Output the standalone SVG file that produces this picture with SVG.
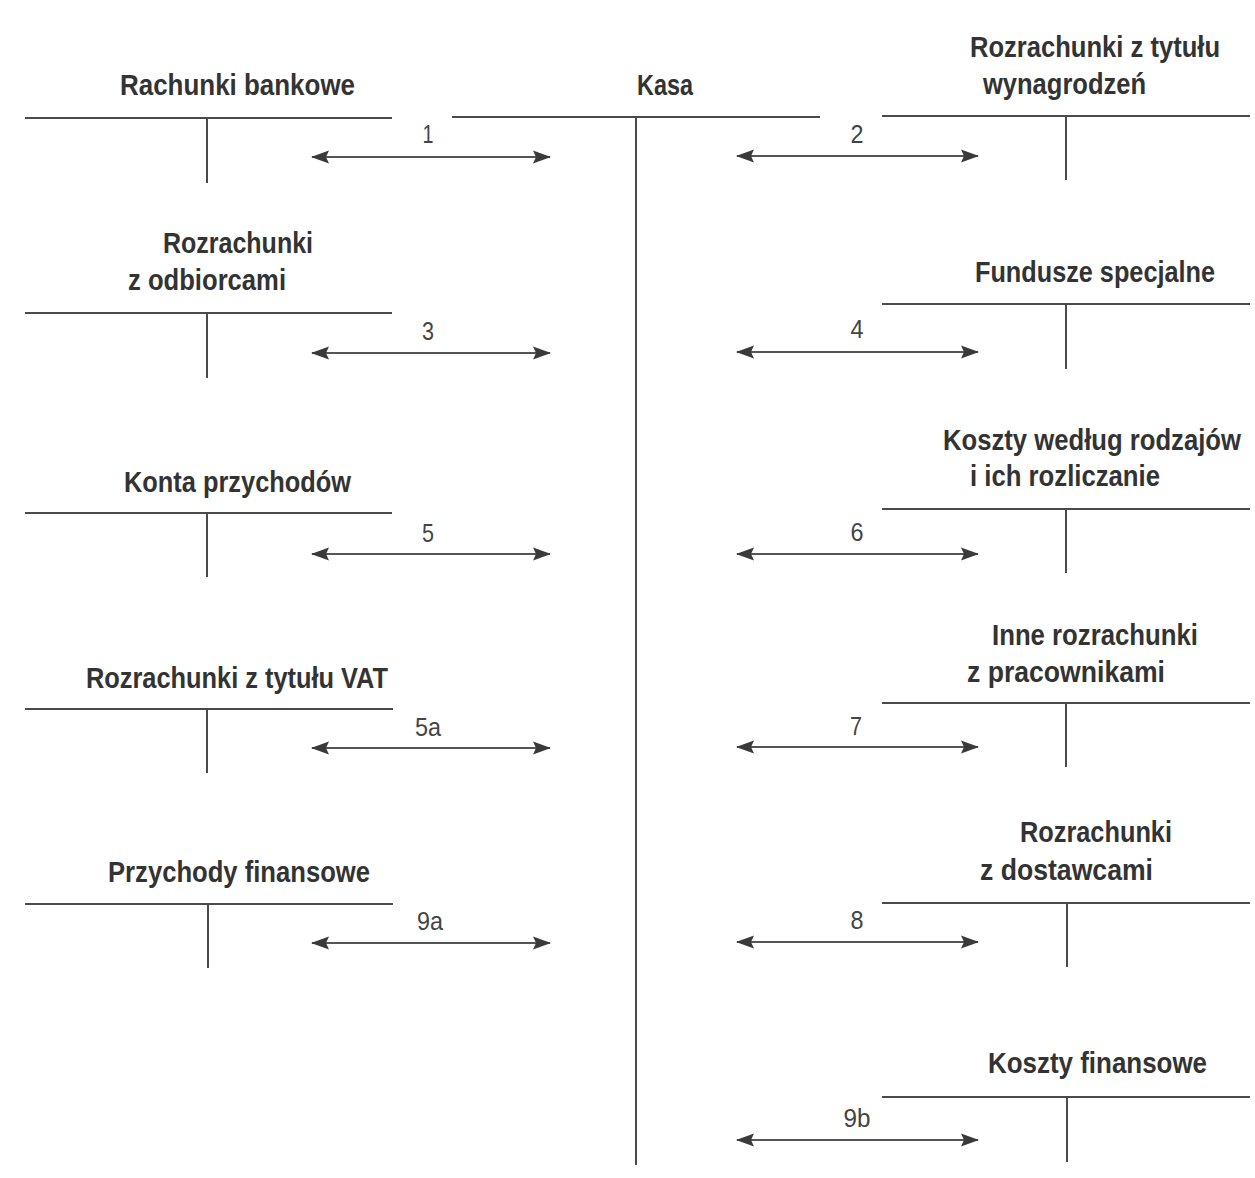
<svg xmlns="http://www.w3.org/2000/svg" width="1255" height="1178" viewBox="0 0 1255 1178">
<style>
.t{font-family:"Liberation Sans",Arial,sans-serif;font-weight:bold;font-size:29px;fill:#333;}
.n{font-family:"Liberation Sans",Arial,sans-serif;font-size:26px;fill:#444;text-anchor:middle;}
.acc line{stroke:#4a4a4a;stroke-width:2;}
.conn line{stroke:#555;stroke-width:2;marker-start:url(#ah);marker-end:url(#ah);}
</style>
<defs>
<marker id="ah" viewBox="0 0 18 14" refX="17" refY="7" markerWidth="18" markerHeight="14" markerUnits="userSpaceOnUse" orient="auto-start-reverse">
<path d="M0,0.5 L18,7 L0,13.5 L3,7 Z" fill="#3a3a3a"/>
</marker>
</defs>
<rect width="1255" height="1178" fill="#fff"/>

<g id="kasa" class="acc">
<text class="t" x="637" y="95" textLength="56" lengthAdjust="spacingAndGlyphs">Kasa</text>
<line x1="452" y1="117" x2="820" y2="117"/>
<line x1="636" y1="117" x2="636" y2="1165"/>
</g>

<g id="rachunki-bankowe" class="acc">
<text class="t" x="120" y="95" textLength="235" lengthAdjust="spacingAndGlyphs">Rachunki bankowe</text>
<line x1="25" y1="118" x2="392" y2="118"/>
<line x1="207" y1="118" x2="207" y2="183"/>
</g>

<g id="rozrachunki-odbiorcy" class="acc">
<text class="t" x="163" y="253" textLength="150" lengthAdjust="spacingAndGlyphs">Rozrachunki</text>
<text class="t" x="128" y="290" textLength="158" lengthAdjust="spacingAndGlyphs">z odbiorcami</text>
<line x1="25" y1="313" x2="392" y2="313"/>
<line x1="207" y1="313" x2="207" y2="378"/>
</g>

<g id="konta-przychodow" class="acc">
<text class="t" x="124" y="492" textLength="227" lengthAdjust="spacingAndGlyphs">Konta przychodów</text>
<line x1="25" y1="513" x2="392" y2="513"/>
<line x1="207" y1="513" x2="207" y2="577"/>
</g>

<g id="rozrachunki-vat" class="acc">
<text class="t" x="86" y="688" textLength="302" lengthAdjust="spacingAndGlyphs">Rozrachunki z tytułu VAT</text>
<line x1="25" y1="709" x2="393" y2="709"/>
<line x1="207" y1="709" x2="207" y2="773"/>
</g>

<g id="przychody-finansowe" class="acc">
<text class="t" x="108" y="882" textLength="262" lengthAdjust="spacingAndGlyphs">Przychody finansowe</text>
<line x1="25" y1="904" x2="393" y2="904"/>
<line x1="208" y1="904" x2="208" y2="968"/>
</g>

<g id="rozrachunki-wynagrodzenia" class="acc">
<text class="t" x="970" y="57" textLength="250" lengthAdjust="spacingAndGlyphs">Rozrachunki z tytułu</text>
<text class="t" x="983" y="94" textLength="163" lengthAdjust="spacingAndGlyphs">wynagrodzeń</text>
<line x1="882" y1="116" x2="1250" y2="116"/>
<line x1="1066" y1="116" x2="1066" y2="180"/>
</g>

<g id="fundusze-specjalne" class="acc">
<text class="t" x="975" y="282" textLength="240" lengthAdjust="spacingAndGlyphs">Fundusze specjalne</text>
<line x1="882" y1="304" x2="1250" y2="304"/>
<line x1="1066" y1="304" x2="1066" y2="369"/>
</g>

<g id="koszty-rodzajow" class="acc">
<text class="t" x="943" y="450" textLength="298" lengthAdjust="spacingAndGlyphs">Koszty według rodzajów</text>
<text class="t" x="970" y="486" textLength="190" lengthAdjust="spacingAndGlyphs">i ich rozliczanie</text>
<line x1="882" y1="509" x2="1250" y2="509"/>
<line x1="1066" y1="509" x2="1066" y2="573"/>
</g>

<g id="inne-rozrachunki" class="acc">
<text class="t" x="992" y="645" textLength="206" lengthAdjust="spacingAndGlyphs">Inne rozrachunki</text>
<text class="t" x="967" y="682" textLength="198" lengthAdjust="spacingAndGlyphs">z pracownikami</text>
<line x1="882" y1="703" x2="1250" y2="703"/>
<line x1="1066" y1="703" x2="1066" y2="767"/>
</g>

<g id="rozrachunki-dostawcy" class="acc">
<text class="t" x="1020" y="842" textLength="152" lengthAdjust="spacingAndGlyphs">Rozrachunki</text>
<text class="t" x="980" y="880" textLength="173" lengthAdjust="spacingAndGlyphs">z dostawcami</text>
<line x1="882" y1="903" x2="1250" y2="903"/>
<line x1="1067" y1="903" x2="1067" y2="967"/>
</g>

<g id="koszty-finansowe" class="acc">
<text class="t" x="988" y="1073" textLength="219" lengthAdjust="spacingAndGlyphs">Koszty finansowe</text>
<line x1="882" y1="1097" x2="1250" y2="1097"/>
<line x1="1067" y1="1097" x2="1067" y2="1162"/>
</g>

<g id="connectors" class="conn">
<line x1="312" y1="157" x2="550" y2="157"/>
<line x1="312" y1="353" x2="550" y2="353"/>
<line x1="312" y1="554" x2="550" y2="554"/>
<line x1="312" y1="748" x2="550" y2="748"/>
<line x1="312" y1="943" x2="550" y2="943"/>
<line x1="737" y1="156" x2="978" y2="156"/>
<line x1="737" y1="352" x2="978" y2="352"/>
<line x1="737" y1="554" x2="978" y2="554"/>
<line x1="737" y1="747" x2="978" y2="747"/>
<line x1="737" y1="942" x2="978" y2="942"/>
<line x1="737" y1="1140" x2="978" y2="1140"/>
</g>

<g id="connector-labels">
<text class="n" x="428" y="143" textLength="11" lengthAdjust="spacingAndGlyphs">1</text>
<text class="n" x="428" y="340" textLength="12" lengthAdjust="spacingAndGlyphs">3</text>
<text class="n" x="428" y="542" textLength="12" lengthAdjust="spacingAndGlyphs">5</text>
<text class="n" x="428" y="736" textLength="26" lengthAdjust="spacingAndGlyphs">5a</text>
<text class="n" x="430" y="930" textLength="26" lengthAdjust="spacingAndGlyphs">9a</text>
<text class="n" x="857" y="143" textLength="13" lengthAdjust="spacingAndGlyphs">2</text>
<text class="n" x="857" y="338" textLength="13" lengthAdjust="spacingAndGlyphs">4</text>
<text class="n" x="857" y="541" textLength="13" lengthAdjust="spacingAndGlyphs">6</text>
<text class="n" x="856" y="735" textLength="12" lengthAdjust="spacingAndGlyphs">7</text>
<text class="n" x="857" y="929" textLength="13" lengthAdjust="spacingAndGlyphs">8</text>
<text class="n" x="857" y="1127" textLength="27" lengthAdjust="spacingAndGlyphs">9b</text>
</g>
</svg>
